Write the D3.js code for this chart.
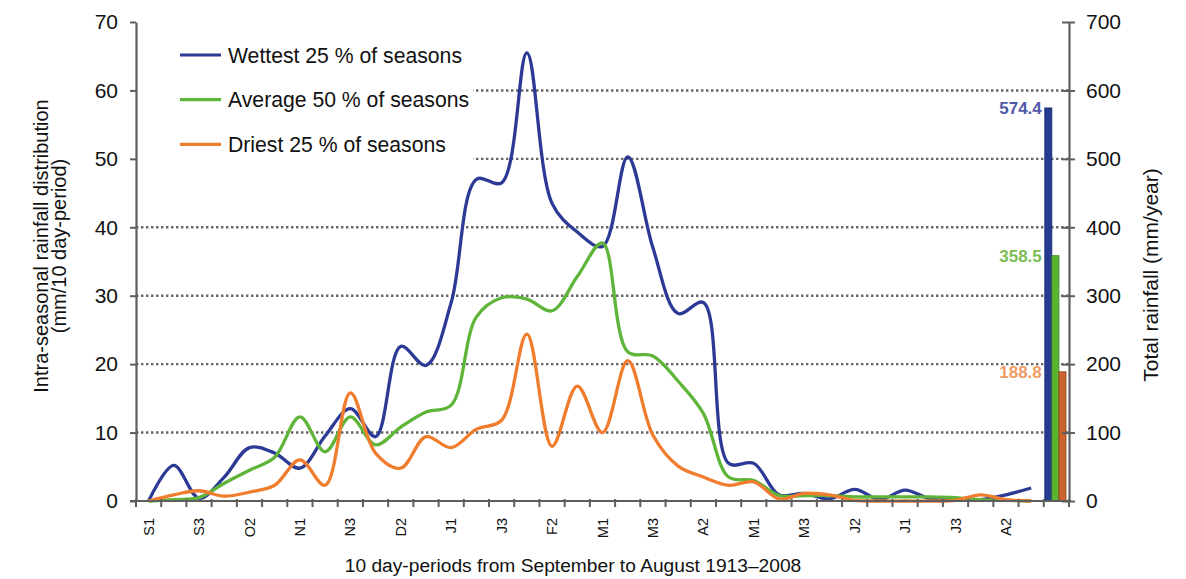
<!DOCTYPE html>
<html>
<head>
<meta charset="utf-8">
<script src="https://cdn.jsdelivr.net/npm/d3@7"></script>
<style>
  body { margin: 0; background: #fff; }
  text { font-family: "Liberation Sans", Arial, Helvetica, sans-serif; fill: #111; }
</style>
</head>
<body>
<svg id="chart" width="1186" height="579"></svg>
<script>
// Ten-day periods (dekads) from September to August
const periods = ["S1","S2","S3","O1","O2","O3","N1","N2","N3","D1","D2","D3",
                 "J1","J2","J3","F1","F2","F3","M1","M2","M3","A1","A2","A3",
                 "M1","M2","M3","J1","J2","J3","J1","J2","J3","A1","A2","A3"];

// Rainfall per dekad (mm/10 day-period)
const wettest = [0, 5.2, 0.4, 3.5, 7.8, 7, 4.8, 9.5, 13.5, 9.4, 22.6, 19.8,
                 29, 47, 46.5, 65.5, 43.5, 39.3, 37.2, 50.3, 37, 27.4, 29, 5.5,
                 5.5, 0.9, 1.1, 0.3, 1.7, 0.2, 1.6, 0.3, 0.3, 0.2, 0.9, 1.9];
const average = [0, 0.2, 0.5, 2.6, 4.5, 6.4, 12.3, 7.2, 12.3, 8.2, 10.8, 13,
                 14, 26.9, 29.7, 29.5, 27.8, 32.8, 37.7, 21.8, 21.2, 17.5, 12.8, 3.5,
                 3, 0.8, 0.8, 0.8, 0.6, 0.6, 0.6, 0.6, 0.5, 0.2, 0.1, 0];
const driest  = [0, 0.9, 1.5, 0.7, 1.3, 2.3, 6, 2.3, 15.8, 7, 4.8, 9.4,
                 7.8, 10.5, 11.8, 24.4, 8, 16.8, 10, 20.5, 9.6, 5.1, 3.5, 2.3,
                 2.8, 0.3, 1.1, 0.9, 0.1, 0, 0, 0, 0.1, 0.9, 0.2, 0];

const seriesNames = ["Wettest 25 % of seasons", "Average 50 % of seasons", "Driest 25 % of seasons"];
const seriesValues = [wettest, average, driest];

// Total rainfall (mm/year) for each group
const totals = [574.4, 358.5, 188.8];

const leftTicks  = [0, 10, 20, 30, 40, 50, 60, 70];
const rightTicks = [0, 100, 200, 300, 400, 500, 600, 700];
const gridValues = [10, 20, 30, 40, 50, 60];

const lineColors  = ["#2d3a95", "#5fb53a", "#f07c2e"];
const barColors   = ["#253b8f", "#5cb531", "#c9642e"];
const barStrokes  = ["#1b2a6e", "#3e7f22", "#8f4520"];
const labelColors = ["#5058a8", "#7cbc55", "#ee9a66"];

const svg = d3.select("#chart");
const plotLeft = 136, plotRight = 1069, plotTop = 22, plotBottom = 501;

const x = d3.scaleBand().domain(d3.range(periods.length + 1)).range([plotLeft, plotRight]).padding(0);
const bw = x.bandwidth();
const y  = d3.scaleLinear().domain([0, 70]).range([plotBottom, plotTop]);
const yR = d3.scaleLinear().domain([0, 700]).range([plotBottom, plotTop]);
const barX = d3.scaleBand().domain(d3.range(totals.length))
  .range([x(periods.length) + 1, x(periods.length) + bw - 3]).padding(0);

// dotted gridlines
svg.append("g").selectAll("line").data(gridValues).join("line")
  .attr("x1", plotLeft).attr("x2", plotRight)
  .attr("y1", d => y(d)).attr("y2", d => y(d))
  .attr("stroke", "#666").attr("stroke-width", 2.4)
  .attr("stroke-dasharray", "2.4,2.6");

// legend backdrop
svg.append("rect").attr("x", plotLeft + 1).attr("y", 28).attr("width", 336).attr("height", 140).attr("fill", "#fff");

// total rainfall bars
svg.append("g").selectAll("rect").data(totals).join("rect")
  .attr("x", (d, i) => barX(i)).attr("width", barX.bandwidth())
  .attr("y", d => yR(d)).attr("height", d => yR(0) - yR(d))
  .attr("fill", (d, i) => barColors[i])
  .attr("stroke", (d, i) => barStrokes[i]).attr("stroke-width", 0.8);

svg.append("g").selectAll("text").data(totals).join("text")
  .attr("x", x(periods.length) - 2).attr("y", d => yR(d) + 6)
  .attr("text-anchor", "end").attr("font-size", 17).attr("font-weight", "bold")
  .style("fill", (d, i) => labelColors[i])
  .text(d => d.toFixed(1));

// rainfall distribution lines
const line = d3.line()
  .x((d, i) => x(i) + bw / 2)
  .y(d => y(d))
  .curve(d3.curveCatmullRom.alpha(0.5));

svg.append("g").selectAll("path").data(seriesValues).join("path")
  .attr("d", d => line(d))
  .attr("fill", "none")
  .attr("stroke", (d, i) => lineColors[i])
  .attr("stroke-width", 3.3)
  .attr("stroke-linejoin", "round");

// axes
const axisColor = "#5e5e5e";
const gL = svg.append("g").attr("transform", `translate(${plotLeft},0)`)
  .call(d3.axisLeft(y).tickValues(leftTicks).tickSizeInner(6).tickSizeOuter(0).tickPadding(12));
const gR = svg.append("g").attr("transform", `translate(${plotRight},0)`)
  .call(d3.axisRight(yR).tickValues(rightTicks).tickSizeInner(6).tickSizeOuter(0).tickPadding(11));
gR.selectAll(".tick line").attr("x1", -7).attr("x2", 6);
[gL, gR].forEach(g => {
  g.select(".domain").attr("stroke", axisColor).attr("stroke-width", 2.2);
  g.selectAll(".tick line").attr("stroke", axisColor).attr("stroke-width", 2);
  g.selectAll(".tick text").attr("font-size", 21).style("fill", "#111")
    .attr("font-family", "Liberation Sans, Arial, sans-serif");
});

// category axis
const gX = svg.append("g");
gX.append("line").attr("x1", plotLeft - 6).attr("x2", plotRight + 2).attr("y1", plotBottom).attr("y2", plotBottom)
  .attr("stroke", axisColor).attr("stroke-width", 2.2);
gX.selectAll("line.tk").data(d3.range(periods.length + 2)).join("line").attr("class", "tk")
  .attr("x1", i => plotLeft + i * bw).attr("x2", i => plotLeft + i * bw)
  .attr("y1", plotBottom - 2).attr("y2", plotBottom + 6)
  .attr("stroke", axisColor).attr("stroke-width", 2);
gX.selectAll("text").data(periods.map((p, i) => ({p, i})).filter(d => d.i % 2 === 0)).join("text")
  .attr("transform", d => `translate(${x(d.i) + bw / 2},${plotBottom + 17}) rotate(-90)`)
  .attr("text-anchor", "end").attr("dy", "0.35em").attr("font-size", 14.5)
  .text(d => d.p);

// axis titles
svg.append("text").attr("transform", "translate(41,246) rotate(-90)")
  .attr("text-anchor", "middle").attr("dy", "0.35em").attr("font-size", 20)
  .text("Intra-seasonal rainfall distribution");
svg.append("text").attr("transform", "translate(59,246) rotate(-90)")
  .attr("text-anchor", "middle").attr("dy", "0.35em").attr("font-size", 20)
  .text("(mm/10 day-period)");
svg.append("text").attr("transform", "translate(1151,275) rotate(-90)")
  .attr("text-anchor", "middle").attr("dy", "0.35em").attr("font-size", 21)
  .text("Total rainfall (mm/year)");
svg.append("text").attr("x", 573).attr("y", 572)
  .attr("text-anchor", "middle").attr("font-size", 19.2)
  .text("10 day-periods from September to August 1913–2008");

// legend
const lg = svg.append("g").selectAll("g").data(seriesNames).join("g")
  .attr("transform", (d, i) => `translate(180,${55 + i * 44.7})`);
lg.append("line").attr("x1", 0).attr("x2", 41).attr("y1", 0).attr("y2", 0)
  .attr("stroke", (d, i) => lineColors[i]).attr("stroke-width", 3.2);
lg.append("text").attr("x", 48).attr("y", 7.5).attr("font-size", 21.2).text(d => d);
</script>
</body>
</html>
